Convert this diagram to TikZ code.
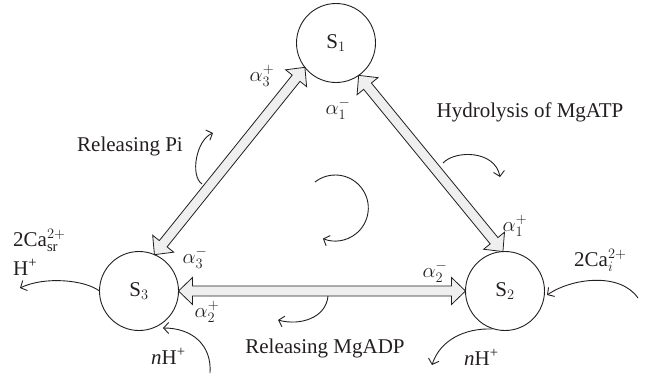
\documentclass[tikz,border=0pt]{standalone}
\usepackage{fontspec}
\setmainfont{Liberation Serif}
\usetikzlibrary{arrows.meta,calc}
\definecolor{ink}{HTML}{231F20}
\definecolor{arrfill}{HTML}{EFEFEF}
\tikzset{
  state/.style={circle, draw=ink, line width=0.9pt, minimum size=79pt, inner sep=0pt, outer sep=0pt, text=ink},
  lbl/.style={text=ink, inner sep=0pt},
  flow/.style={draw=ink, line width=0.9pt, -{Straight Barb[length=5pt,width=11pt]}},
  dblarr/.pic={
    \path[draw=ink, fill=arrfill, line width=0.8pt, line join=miter]
      (0pt,0pt) -- (14pt,13.5pt) -- (14pt,5pt) -- ({#1-14pt},5pt) -- ({#1-14pt},13.5pt)
      -- ({#1},0pt) -- ({#1-14pt},-13.5pt) -- ({#1-14pt},-5pt) -- (14pt,-5pt) -- (14pt,-13.5pt) -- cycle;
  }
}
\newcommand\dblblock[2]{%
  \path let \p1=(#1), \p2=(#2), \n1={atan2(\y2-\y1,\x2-\x1)}, \n2={veclen(\x2-\x1,\y2-\y1)}
    in pic[rotate=\n1] at (\p1) {dblarr=\n2};}
\begin{document}
\begin{tikzpicture}[x=1pt,y=-1pt, font=\fontsize{21}{25}\selectfont]
\useasboundingbox (0,0) rectangle (645,373);
% states
\node[state] (S1) at (336,43) {S$_1$};
\node[state] (S2) at (505,291) {S$_2$};
\node[state] (S3) at (139,291) {S$_3$};
% block double arrows
\dblblock{S3.67}{S1.218}
\dblblock{S1.305}{S2.93}
\dblblock{S3.0}{S2.180}
% rate labels
\node[lbl] (a3p) at (262,76) {$\alpha_3^+$};
\node[lbl] (a1m) at (338,109) {$\alpha_1^-$};
\node[lbl] (a1p) at (515,226) {$\alpha_1^+$};
\node[lbl] (a2m) at (435,272) {$\alpha_2^-$};
\node[lbl] (a3m) at (195,258) {$\alpha_3^-$};
\node[lbl] (a2p) at (207,312) {$\alpha_2^+$};
% process labels
\node[lbl] (hyd) at (530,112) {Hydrolysis of MgATP};
\node[lbl] (rpi) at (130,146) {Releasing Pi};
\node[lbl] (radp) at (325,348) {Releasing MgADP};
\node[lbl, anchor=base west] (casr) at (13,246) {2Ca$^{2+}_{\mathrm{sr}}$};
\node[lbl, anchor=base west] (hp) at (13,275) {H\textsuperscript{+}};
\node[lbl, anchor=base west] (cai) at (574,266) {2Ca$_{i}^{2+}$};
\node[lbl, anchor=base west] (nh3) at (151,364) {\textit{n}H\textsuperscript{+}};
\node[lbl, anchor=base west] (nh2) at (464,365) {\textit{n}H\textsuperscript{+}};
% thin flow arrows
\draw[flow] (202,184) .. controls (190,176) and (196,140) .. (213,133);
\draw[flow] (443,163) .. controls (455,150) and (495,150) .. (500,177);
\draw[flow] (315,182) arc[start angle=-128, end angle=112, radius=33];
\draw[flow] (328,296) .. controls (326,318) and (300,326) .. (278,320);
\draw[flow] (S3.west) .. controls (85,280) and (45,276) .. (20,288);
\draw[flow] (210,373) .. controls (212,345) and (192,328) .. (163,328);
\draw[flow] (638,298) .. controls (620,272) and (572,278) .. (547,295);
\draw[flow] (492,329) .. controls (465,328) and (440,340) .. (432,365);
\end{tikzpicture}
\end{document}
